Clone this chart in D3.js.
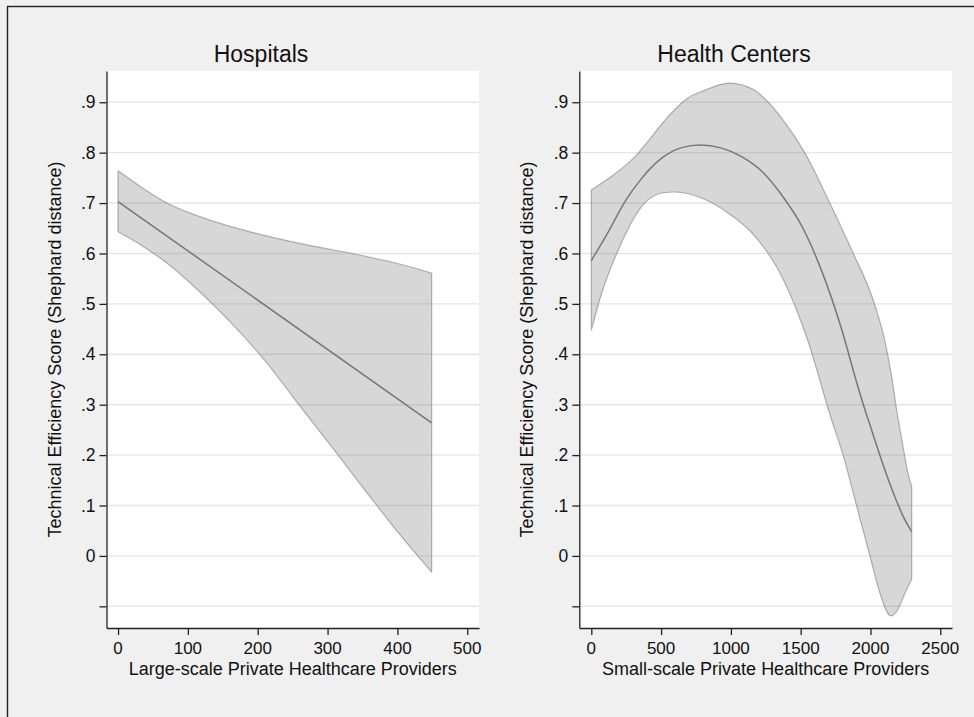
<!DOCTYPE html>
<html><head><meta charset="utf-8">
<script src="https://cdn.jsdelivr.net/npm/d3@7"></script>
<style>
body{margin:0;background:#f0f0f0;}
svg text{font-family:"Liberation Sans",Arial,Helvetica,sans-serif;fill:#111;}
</style>
</head><body>
<svg id="chart" width="974" height="717"></svg>
<script>
// ---------- data ----------
const yTickValues = [-0.1, 0, 0.1, 0.2, 0.3, 0.4, 0.5, 0.6, 0.7, 0.8, 0.9];
const yTickLabels = ["", "0", ".1", ".2", ".3", ".4", ".5", ".6", ".7", ".8", ".9"];
const yTitle = "Technical Efficiency Score (Shephard distance)";

// Hospitals
const hospTitle = "Hospitals";
const hospXLabel = "Large-scale Private Healthcare Providers";
const hospXTicks = [0, 100, 200, 300, 400, 500];
const hospFitX = [0, 449];
const hospFitY = [0.703, 0.264];
const hospUpperX = [0, 36, 70, 117, 189, 260, 346, 389, 449];
const hospUpperY = [0.764, 0.729, 0.700, 0.673, 0.643, 0.620, 0.597, 0.584, 0.561];
const hospLowerX = [0, 36, 70, 117, 165, 213, 260, 308, 356, 403, 449];
const hospLowerY = [0.643, 0.614, 0.581, 0.524, 0.458, 0.383, 0.298, 0.213, 0.126, 0.043, -0.032];

// Health Centers
const hcTitle = "Health Centers";
const hcXLabel = "Small-scale Private Healthcare Providers";
const hcXTicks = [0, 500, 1000, 1500, 2000, 2500];
const hcFitX = [0, 122, 241, 361, 504, 648, 779, 934, 1077, 1221, 1364, 1507, 1651, 1794, 1896, 1949, 2008, 2068, 2128, 2188, 2235, 2295];
const hcFitY = [0.586, 0.643, 0.703, 0.749, 0.789, 0.810, 0.815, 0.809, 0.792, 0.763, 0.716, 0.655, 0.565, 0.449, 0.349, 0.300, 0.250, 0.199, 0.151, 0.108, 0.078, 0.048];
const hcUpperX = [0, 146, 313, 433, 552, 690, 805, 989, 1163, 1243, 1386, 1531, 1698, 1865, 2032, 2100, 2152, 2190, 2230, 2265, 2295];
const hcUpperY = [0.726, 0.753, 0.792, 0.832, 0.872, 0.908, 0.923, 0.938, 0.925, 0.907, 0.860, 0.799, 0.706, 0.607, 0.497, 0.430, 0.355, 0.285, 0.222, 0.168, 0.138];
const hcLowerX = [0, 74, 193, 361, 504, 600, 791, 981, 1173, 1364, 1554, 1710, 1805, 1901, 1996, 2068, 2116, 2145, 2188, 2247, 2295];
const hcLowerY = [0.448, 0.521, 0.607, 0.693, 0.720, 0.722, 0.710, 0.680, 0.634, 0.555, 0.425, 0.280, 0.199, 0.099, 0.000, -0.074, -0.110, -0.119, -0.110, -0.074, -0.046];

// ---------- drawing ----------
const FONT = "'Liberation Sans',Arial,Helvetica,sans-serif";
const svg = d3.select("#chart");
svg.append("rect").attr("x",0).attr("y",0).attr("width",974).attr("height",717).attr("fill","#f0f0f0");
// outer frame (extends past right/bottom edges)
svg.append("rect").attr("x",7.5).attr("y",6.5).attr("width",1000).attr("height",1000)
  .attr("fill","none").attr("stroke","#222").attr("stroke-width",1.4);

const plotTop = 71, plotBottom = 628;
const yDomain = [-0.143, 0.962];

function zip(xs, ys){ return xs.map((x,i)=>[x, ys[i]]); }
function txt(g, size){ return g.append("text").attr("font-family",FONT).attr("font-size",size)
  .style("font-size", size+"px").style("font-family",FONT).attr("fill","#111"); }

function panel(opt){
  const x = d3.scaleLinear().domain(opt.xDomain).range([opt.left, opt.right]);
  const y = d3.scaleLinear().domain(yDomain).range([plotBottom, plotTop]);
  const g = svg.append("g");

  g.append("rect").attr("x",opt.left).attr("y",plotTop)
    .attr("width",opt.right-opt.left).attr("height",plotBottom-plotTop).attr("fill","#fff");

  // gridlines
  g.append("g").selectAll("line").data(yTickValues).join("line")
    .attr("x1",opt.left).attr("x2",opt.right)
    .attr("y1",d=>y(d)).attr("y2",d=>y(d))
    .attr("stroke","#e6e6e6").attr("stroke-width",1.4);

  // band
  const line = d3.line().x(d=>x(d[0])).y(d=>y(d[1])).curve(d3.curveMonotoneX);
  const up = line(zip(opt.upX, opt.upY));
  const lo = line(zip(opt.loX, opt.loY).reverse());
  g.append("path").attr("d", up + "L" + lo.slice(1) + "Z")
    .attr("fill","rgb(110,110,110)").attr("fill-opacity",0.28)
    .attr("stroke","rgb(110,110,110)").attr("stroke-opacity",0.5).attr("stroke-width",1.2)
    .attr("stroke-linejoin","round");

  // fit
  g.append("path").attr("d", line(zip(opt.fitX, opt.fitY)))
    .attr("fill","none").attr("stroke","#777").attr("stroke-width",1.5);

  // axes (lines & ticks from d3 axes, labels as explicit text)
  const yAxis = d3.axisLeft(y).tickValues(yTickValues).tickFormat("").tickSize(7).tickSizeOuter(0);
  const ya = g.append("g").attr("transform",`translate(${opt.left},0)`).call(yAxis);
  const xAxis = d3.axisBottom(x).tickValues(opt.xTicks).tickFormat("").tickSize(7).tickSizeOuter(0);
  const xa = g.append("g").attr("transform",`translate(0,${plotBottom})`).call(xAxis);
  [ya, xa].forEach(a=>{
    a.select(".domain").attr("stroke","#222").attr("stroke-width",1.3);
    a.selectAll(".tick line").attr("stroke","#222").attr("stroke-width",1.3);
    a.selectAll(".tick text").remove();
  });
  yTickValues.forEach((v,i)=>{
    txt(g,17.5).attr("x",opt.left-11).attr("y",y(v)).attr("dy","0.35em")
      .attr("text-anchor","end").text(yTickLabels[i]);
  });
  opt.xTicks.forEach(v=>{
    txt(g,17).attr("x",x(v)).attr("y",654.3).attr("text-anchor","middle").text(d3.format("d")(v));
  });

  // titles
  txt(g,23).attr("x",opt.titleX).attr("y",62).attr("text-anchor","middle").text(opt.title);
  txt(g,18).attr("x",(opt.left+opt.right)/2).attr("y",675.3).attr("text-anchor","middle").text(opt.xLabel);
  txt(g,18).attr("transform",`translate(${opt.left-46},${(plotTop+plotBottom)/2}) rotate(-90)`)
    .attr("text-anchor","middle").text(yTitle);
}

panel({left:106.5, right:479, xDomain:[-16.5, 516.8], xTicks:hospXTicks,
  title:hospTitle, titleX:261, xLabel:hospXLabel,
  fitX:hospFitX, fitY:hospFitY, upX:hospUpperX, upY:hospUpperY, loX:hospLowerX, loY:hospLowerY});
panel({left:579.3, right:952, xDomain:[-86, 2584], xTicks:hcXTicks,
  title:hcTitle, titleX:734, xLabel:hcXLabel,
  fitX:hcFitX, fitY:hcFitY, upX:hcUpperX, upY:hcUpperY, loX:hcLowerX, loY:hcLowerY});
</script>
</body></html>
